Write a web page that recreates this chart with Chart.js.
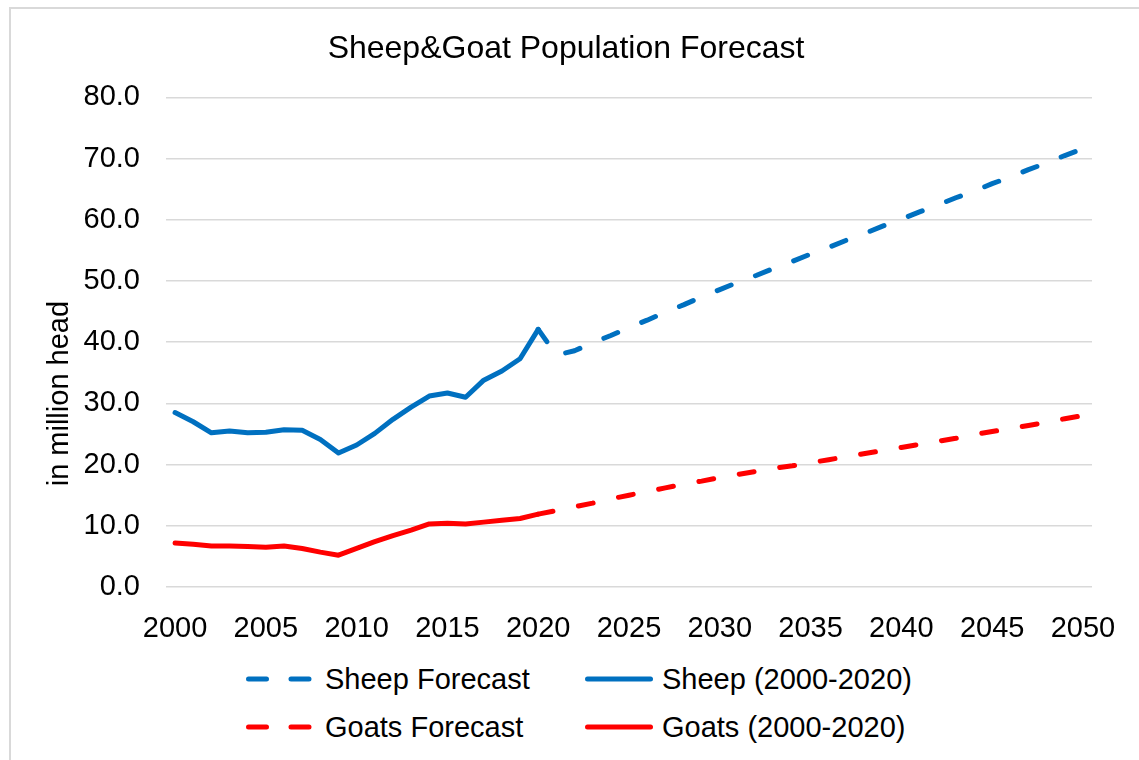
<!DOCTYPE html>
<html>
<head>
<meta charset="utf-8">
<title>Sheep&amp;Goat Population Forecast</title>
<script src="https://cdn.jsdelivr.net/npm/chart.js@4"></script>
<style>
body { margin: 0; background: #fff; font-family: "Liberation Sans", Arial, sans-serif; overflow: hidden; }
#frame { position: absolute; left: 9px; top: 7px; width: 1200px; height: 800px; border: 2px solid #d9d9d9; }
#chart { position: absolute; left: 0; top: 0; }
.sample { position: absolute; }
.label { position: absolute; font-size: 29px; line-height: 34px; color: #000; white-space: nowrap; }
</style>
</head>
<body>
<div id="frame"></div>
<canvas id="chart" width="1139" height="650"></canvas>
<div id="legend"></div>
<script>
const years = ['2000','2001','2002','2003','2004','2005','2006','2007','2008','2009',
  '2010','2011','2012','2013','2014','2015','2016','2017','2018','2019',
  '2020','2021','2022','2023','2024','2025','2026','2027','2028','2029',
  '2030','2031','2032','2033','2034','2035','2036','2037','2038','2039',
  '2040','2041','2042','2043','2044','2045','2046','2047','2048','2049','2050'];

// 2000-2020
const sheepHist = [28.5, 27.0, 25.2, 25.5, 25.2, 25.3, 25.7, 25.6, 24.1, 21.9,
  23.2, 25.1, 27.4, 29.4, 31.2, 31.7, 31.0, 33.8, 35.3, 37.3, 42.1];
const goatsHist = [7.2, 7.0, 6.7, 6.7, 6.6, 6.5, 6.7, 6.3, 5.7, 5.2,
  6.3, 7.4, 8.4, 9.3, 10.3, 10.4, 10.3, 10.6, 10.9, 11.2, 11.9];

// 2020-2050
const sheepForecast = [42.1, 37.9, 38.6, 39.9, 41.1, 42.4, 43.6, 44.9, 46.1, 47.4,
  48.6, 49.8, 50.9, 52.1, 53.2, 54.4, 55.5, 56.7, 57.8, 59.0,
  60.1, 61.3, 62.4, 63.6, 64.7, 65.9, 67.0, 68.2, 69.3, 70.5, 71.6];
const goatsForecast = [11.9, 12.5, 13.1, 13.7, 14.4, 15.0, 15.6, 16.2, 16.8, 17.3,
  17.9, 18.4, 18.9, 19.4, 19.8, 20.3, 20.8, 21.3, 21.8, 22.3,
  22.8, 23.3, 23.8, 24.3, 24.9, 25.4, 25.9, 26.4, 26.9, 27.5, 28.0];

const yTicks = [0, 10, 20, 30, 40, 50, 60, 70, 80];

const BLUE = '#0070C0';
const RED = '#FF0000';
const FONT = '"Liberation Sans", Arial, sans-serif';

const histData = arr => arr.concat(Array(years.length - arr.length).fill(null));
const forecastData = arr => Array(years.length - arr.length).fill(null).concat(arr);

// rotated y axis title, sits a bit below the middle like the original
const yTitle = {
  id: 'yTitle',
  afterDraw(chart) {
    const { ctx, chartArea } = chart;
    ctx.save();
    ctx.translate(60, chartArea.top + (chartArea.bottom - chartArea.top) * 0.605);
    ctx.rotate(-Math.PI / 2);
    ctx.font = '29px ' + FONT;
    ctx.fillStyle = '#000';
    ctx.textAlign = 'center';
    ctx.textBaseline = 'middle';
    ctx.fillText('in million head', 0, 0);
    ctx.restore();
  }
};

const lineSet = (label, data, color, dashed) => ({
  label, data,
  borderColor: color,
  backgroundColor: color,
  borderWidth: 5,
  borderDash: dashed ? [15, 26] : [],
  borderCapStyle: 'round',
  borderJoinStyle: 'round',
  pointRadius: 0,
  tension: 0,
  fill: false
});

const ctx = document.getElementById('chart').getContext('2d');
const chart = new Chart(ctx, {
  type: 'line',
  data: {
    labels: years,
    datasets: [
      lineSet('Sheep Forecast', forecastData(sheepForecast), BLUE, true),
      lineSet('Goats Forecast', forecastData(goatsForecast), RED, true),
      lineSet('Sheep (2000-2020)', histData(sheepHist), BLUE, false),
      lineSet('Goats (2000-2020)', histData(goatsHist), RED, false)
    ]
  },
  options: {
    responsive: false,
    animation: false,
    layout: { padding: { left: 40, right: 47, top: 0, bottom: 0 } },
    plugins: {
      legend: { display: false },
      tooltip: { enabled: false },
      title: {
        display: true,
        text: 'Sheep&Goat Population Forecast',
        color: '#000',
        font: { family: FONT, size: 32, weight: 'normal' },
        padding: { top: 30, bottom: 29 }
      }
    },
    scales: {
      x: {
        offset: true,
        grid: { display: false },
        border: { display: false },
        ticks: {
          autoSkip: false, maxRotation: 0, padding: 17, color: '#000',
          font: { family: FONT, size: 29 },
          callback(v, i) { return i % 5 === 0 ? this.getLabelForValue(v) : null; }
        },
        afterFit(s) { s.height = 63; }
      },
      y: {
        min: yTicks[0],
        max: yTicks[yTicks.length - 1],
        afterBuildTicks(s) { s.ticks = yTicks.map(v => ({ value: v })); },
        grid: { color: '#d9d9d9', lineWidth: 1.5, drawTicks: false },
        border: { display: false },
        ticks: {
          padding: 26, color: '#000',
          font: { family: FONT, size: 29 },
          callback: v => v.toFixed(1)
        },
        afterFit(s) { s.width = 126; }
      }
    }
  },
  plugins: [yTitle]
});

// Legend (two columns, two rows)
const legendItems = [
  { text: 'Sheep Forecast', color: BLUE, dashed: true, x: 244, y: 679 },
  { text: 'Sheep (2000-2020)', color: BLUE, dashed: false, x: 578, y: 679 },
  { text: 'Goats Forecast', color: RED, dashed: true, x: 244, y: 727 },
  { text: 'Goats (2000-2020)', color: RED, dashed: false, x: 578, y: 727 }
];
const legend = document.getElementById('legend');
legendItems.forEach(it => {
  const w = it.dashed ? 72 : 78;
  const svg = document.createElementNS('http://www.w3.org/2000/svg', 'svg');
  svg.setAttribute('class', 'sample');
  svg.setAttribute('width', w);
  svg.setAttribute('height', 12);
  svg.style.left = it.x + 'px';
  svg.style.top = (it.y - 6) + 'px';
  const line = document.createElementNS('http://www.w3.org/2000/svg', 'line');
  line.setAttribute('x1', it.dashed ? 4.5 : 9.5);
  line.setAttribute('x2', it.dashed ? 65.5 : 72.5);
  line.setAttribute('y1', 6);
  line.setAttribute('y2', 6);
  line.setAttribute('stroke', it.color);
  line.setAttribute('stroke-width', 5);
  line.setAttribute('stroke-linecap', 'round');
  if (it.dashed) line.setAttribute('stroke-dasharray', '18 24.5');
  svg.appendChild(line);
  legend.appendChild(svg);
  const span = document.createElement('span');
  span.className = 'label';
  span.textContent = it.text;
  span.style.left = (it.dashed ? 325 : 662) + 'px';
  span.style.top = (it.y - 17) + 'px';
  legend.appendChild(span);
});
</script>
</body>
</html>
